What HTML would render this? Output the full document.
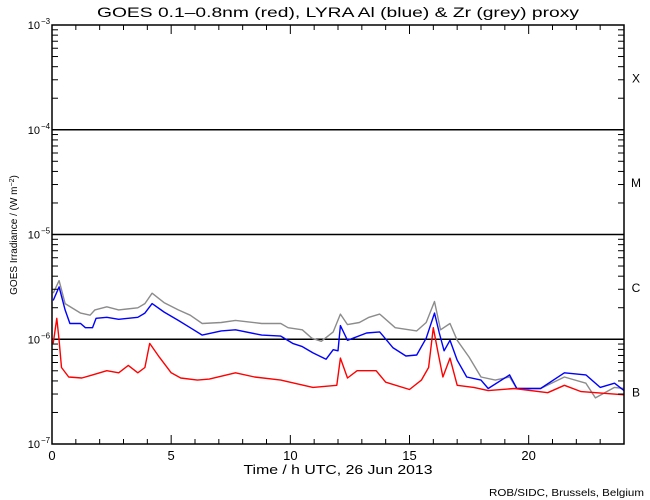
<!DOCTYPE html>
<html><head><meta charset="utf-8"><style>
body{margin:0;background:#fff;}
svg{display:block;font-family:"Liberation Sans",sans-serif;}
</style></head><body>
<svg id="chart" width="650" height="500" viewBox="0 0 650 500">
<rect width="650" height="500" fill="#fff"/>
<text x="338" y="17" font-size="14" text-anchor="middle" textLength="482" lengthAdjust="spacingAndGlyphs">GOES 0.1–0.8nm (red), LYRA Al (blue) &amp; Zr (grey) proxy</text>
<g id="grid"></g>
<g id="series"></g>
<g id="axes"></g>
<text x="338" y="474" font-size="13" text-anchor="middle" textLength="189" lengthAdjust="spacingAndGlyphs">Time / h UTC, 26 Jun 2013</text>
<text transform="translate(17,235) rotate(-90)" font-size="10" text-anchor="middle">GOES Irradiance / (W m<tspan baseline-shift="super" font-size="7">−2</tspan>)</text>
<text x="644" y="496" font-size="10" text-anchor="end" textLength="155" lengthAdjust="spacingAndGlyphs">ROB/SIDC, Brussels, Belgium</text>
</svg>
<script>
// data: time (h) and log10 irradiance (W m^-2)
const redT=[0.05,0.2,0.3,0.4,0.7,1.25,1.7,2.3,2.8,3.2,3.6,3.9,4.1,4.5,5.0,5.4,6.1,6.6,7.7,8.5,9.6,10.95,11.95,12.1,12.4,12.8,13.6,14.0,15.0,15.5,15.8,16.0,16.2,16.4,16.7,17.0,17.7,18.3,19.4,20.8,21.5,22.2,24];
const redLog=[-6.04,-5.80,-6.01,-6.27,-6.36,-6.37,-6.34,-6.30,-6.32,-6.25,-6.32,-6.27,-6.04,-6.17,-6.32,-6.37,-6.39,-6.38,-6.32,-6.36,-6.39,-6.46,-6.44,-6.18,-6.37,-6.30,-6.30,-6.41,-6.48,-6.39,-6.27,-5.89,-6.13,-6.36,-6.18,-6.44,-6.46,-6.49,-6.47,-6.51,-6.44,-6.50,-6.53];
const blueT=[0.05,0.3,0.55,0.75,1.2,1.4,1.7,1.85,2.3,2.8,3.6,3.9,4.2,4.7,5.3,5.8,6.3,7.1,7.7,8.8,9.6,10.1,10.5,10.95,11.5,11.8,12.0,12.1,12.4,13.2,13.75,14.3,14.85,15.3,15.7,16.05,16.25,16.45,16.7,17.0,17.4,18.0,18.3,19.2,19.5,20.5,21.5,22.4,23.0,23.6,24];
const blueLog=[-5.63,-5.50,-5.72,-5.85,-5.85,-5.89,-5.89,-5.80,-5.79,-5.81,-5.79,-5.75,-5.66,-5.74,-5.82,-5.89,-5.96,-5.92,-5.91,-5.96,-5.97,-6.04,-6.07,-6.13,-6.19,-6.10,-6.11,-5.87,-6.01,-5.94,-5.93,-6.08,-6.16,-6.15,-5.99,-5.75,-5.94,-6.11,-6.01,-6.20,-6.36,-6.39,-6.47,-6.34,-6.47,-6.47,-6.32,-6.34,-6.46,-6.42,-6.49];
const greyT=[0.05,0.3,0.55,1.2,1.6,1.8,2.3,2.8,3.6,3.9,4.2,4.7,5.3,5.8,6.3,7.1,7.7,8.8,9.6,9.9,10.5,10.9,11.3,11.8,12.1,12.4,12.9,13.3,13.75,14.4,15.3,15.7,16.05,16.3,16.7,17.0,17.5,18.0,18.6,19.2,19.5,20.5,21.5,22.4,22.8,23.6,24];
const greyLog=[-5.56,-5.44,-5.66,-5.75,-5.77,-5.72,-5.69,-5.72,-5.70,-5.66,-5.56,-5.65,-5.72,-5.77,-5.85,-5.84,-5.82,-5.85,-5.85,-5.89,-5.91,-5.99,-6.02,-5.93,-5.76,-5.86,-5.84,-5.79,-5.76,-5.89,-5.92,-5.84,-5.64,-5.91,-5.85,-6.01,-6.17,-6.36,-6.39,-6.36,-6.47,-6.47,-6.36,-6.42,-6.56,-6.46,-6.47];
const xTickLabels=["0","5","10","15","20"];
const yExponents=[-3,-4,-5,-6,-7];
const classLabels=["X","M","C","B"];

const L=52,R=624,T=25,B=444;
const NS="http://www.w3.org/2000/svg";
function xs(t){return L+(t/24)*(R-L);}
function ys(lg){return T+(-3-lg)/4*(B-T);}
function mk(tag,attrs,parent){const e=document.createElementNS(NS,tag);for(const k in attrs)e.setAttribute(k,attrs[k]);parent.appendChild(e);return e;}
const grid=document.getElementById('grid'),axes=document.getElementById('axes'),ser=document.getElementById('series');

const fr=mk('rect',{x:L,y:T,width:R-L,height:B-T,fill:'none',stroke:'#000','stroke-width':1.5},axes);


[-4,-5,-6].forEach(e=>{
  const ln=mk('line',{x1:L,x2:R,y1:ys(e),y2:ys(e),stroke:'#000','stroke-width':1.5},grid);
  
  
});
for(let e=-7;e<-3;e++){
  for(let m=2;m<=9;m++){
    const y=ys(e+Math.log10(m));
    const a=mk('line',{x1:L,x2:L+6,y1:y,y2:y,stroke:'#000'},axes);
    
    
    const b=mk('line',{x1:R-6,x2:R,y1:y,y2:y,stroke:'#000'},axes);
    
    
  }
}
yExponents.forEach(e=>{
  const y=ys(e);
  const tx=mk('text',{x:L-12,y:y+4,'font-size':11,'text-anchor':'end'},axes);
  
  
  tx.textContent='10';
  const sp=mk('text',{x:L-11,y:y-1,'font-size':8},axes);
  
  
  sp.textContent=String(e).replace('-','−');
});
for(let h=0;h<=24;h++){
  const x=xs(h),len=(h%5===0)?9:5;
  const a=mk('line',{x1:x,x2:x,y1:B,y2:B-len,stroke:'#000'},axes);
  
  
  const b=mk('line',{x1:x,x2:x,y1:T,y2:T+len,stroke:'#000'},axes);
  
  
}
xTickLabels.forEach(s=>{
  const tx=mk('text',{x:xs(+s),y:B+16,'font-size':13,'text-anchor':'middle'},axes);
  
  
  tx.textContent=s;
});
classLabels.forEach((c,i)=>{
  const tx=mk('text',{x:636,y:ys(-3.5-i)+5,'font-size':12,'text-anchor':'middle'},axes);
  
  
  tx.textContent=c;
});
function line(ts,ls,color,name){
  const pts=ts.map((t,i)=>xs(t).toFixed(1)+','+ys(ls[i]).toFixed(1)).join(' ');
  const p=mk('polyline',{points:pts,fill:'none',stroke:color,'stroke-width':1.4,'stroke-linejoin':'round'},ser);
  
  
}
line(greyT,greyLog,'#8c8c8c','lyra-zr-series');
line(blueT,blueLog,'#0000ff','lyra-al-series');
line(redT,redLog,'#ff0000','goes-series');
</script>
</body></html>
